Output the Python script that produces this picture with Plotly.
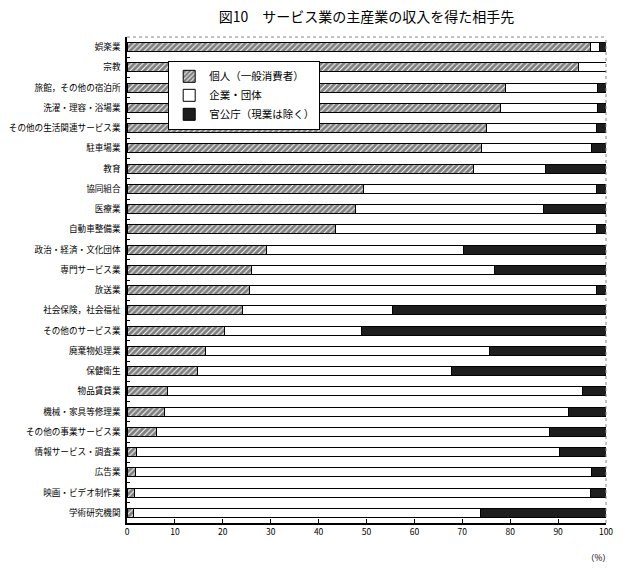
import plotly.graph_objects as go

categories = [
    "娯楽業", "宗教", "旅館，その他の宿泊所", "洗濯・理容・浴場業",
    "その他の生活関連サービス業", "駐車場業", "教育", "協同組合", "医療業",
    "自動車整備業", "政治・経済・文化団体", "専門サービス業", "放送業",
    "社会保険，社会福祉", "その他のサービス業", "廃棄物処理業", "保健衛生",
    "物品賃貸業", "機械・家具等修理業", "その他の事業サービス業",
    "情報サービス・調査業", "広告業", "映画・ビデオ制作業", "学術研究機関",
]
kojin = [96.8, 94.3, 79.0, 78.0, 75.1, 74.0, 72.4, 49.4, 47.7, 43.5, 29.1, 26.0,
         25.6, 24.1, 20.3, 16.4, 14.7, 8.4, 7.8, 6.1, 2.0, 1.8, 1.5, 1.3]
kigyo = [1.9, 5.7, 19.3, 20.3, 23.0, 22.9, 14.9, 48.7, 39.3, 54.6, 41.2, 50.8,
         72.5, 31.3, 28.7, 59.3, 53.1, 86.6, 84.3, 82.0, 88.2, 95.1, 95.2, 72.6]
kankocho = [1.3, 0.0, 1.7, 1.7, 1.9, 3.1, 12.7, 1.9, 13.0, 1.9, 29.7, 23.2,
            1.9, 44.6, 51.0, 24.3, 32.2, 5.0, 7.9, 11.9, 9.8, 3.1, 3.3, 26.1]
series_names = ["個人（一般消費者）", "企業・団体", "官公庁（現業は除く）"]
x_ticks = [0, 10, 20, 30, 40, 50, 60, 70, 80, 90, 100]

FONT = "Noto Sans CJK JP"
fig = go.Figure()
fig.add_trace(go.Bar(
    y=categories, x=kojin, orientation="h", name=series_names[0],
    marker=dict(color="white", line=dict(color="black", width=1),
                pattern=dict(shape="/", fgcolor="black", bgcolor="white",
                             size=4, solidity=0.75, fillmode="overlay")),
))
fig.add_trace(go.Bar(
    y=categories, x=kigyo, orientation="h", name=series_names[1],
    marker=dict(color="white", line=dict(color="black", width=1)),
))
fig.add_trace(go.Bar(
    y=categories, x=kankocho, orientation="h", name=series_names[2],
    marker=dict(color="#1e1e1e", line=dict(color="black", width=1)),
))

fig.update_layout(
    barmode="stack",
    bargap=0.56,
    width=644, height=571,
    margin=dict(l=127, r=38, t=37, b=48),
    paper_bgcolor="white", plot_bgcolor="white",
    font=dict(family=FONT, size=9, color="black"),
    title=dict(text="図10　サービス業の主産業の収入を得た相手先",
               x=0.5, xref="paper", y=0.97, yref="container", yanchor="middle",
               font=dict(family=FONT, size=14, color="black")),
    legend=dict(x=0.086, y=0.951, xanchor="left", yanchor="top",
                bgcolor="white", bordercolor="black", borderwidth=1,
                font=dict(family=FONT, size=10.5, color="black"),
                traceorder="normal", itemwidth=30, tracegroupgap=0),
    xaxis=dict(range=[0, 100], tickvals=x_ticks, ticktext=[str(v) for v in x_ticks],
               ticks="inside", ticklen=4, tickcolor="black",
               showline=True, linecolor="black", linewidth=1.5,
               showgrid=False, zeroline=False, mirror=False,
               tickfont=dict(size=8.5), automargin=False),
    yaxis=dict(autorange="reversed", tickson="boundaries", ticks="inside",
               ticklen=3, tickcolor="black", showline=True, linecolor="black",
               linewidth=1.5, showgrid=False, ticklabelstandoff=3,
               tickfont=dict(size=8.6), automargin=False),
)
# dotted top / right frame
fig.add_shape(type="line", xref="paper", yref="paper", x0=0, x1=1, y0=1, y1=1,
              line=dict(color="#888888", width=1, dash="dot"))
fig.add_shape(type="line", xref="paper", yref="paper", x0=1, x1=1, y0=0, y1=1,
              line=dict(color="#888888", width=1, dash="dot"))
fig.add_annotation(text="（%）", xref="paper", yref="paper", x=0.985, y=-0.07,
                   xanchor="center", yanchor="middle", showarrow=False,
                   font=dict(family=FONT, size=8.5))

fig.write_html("out.html")
